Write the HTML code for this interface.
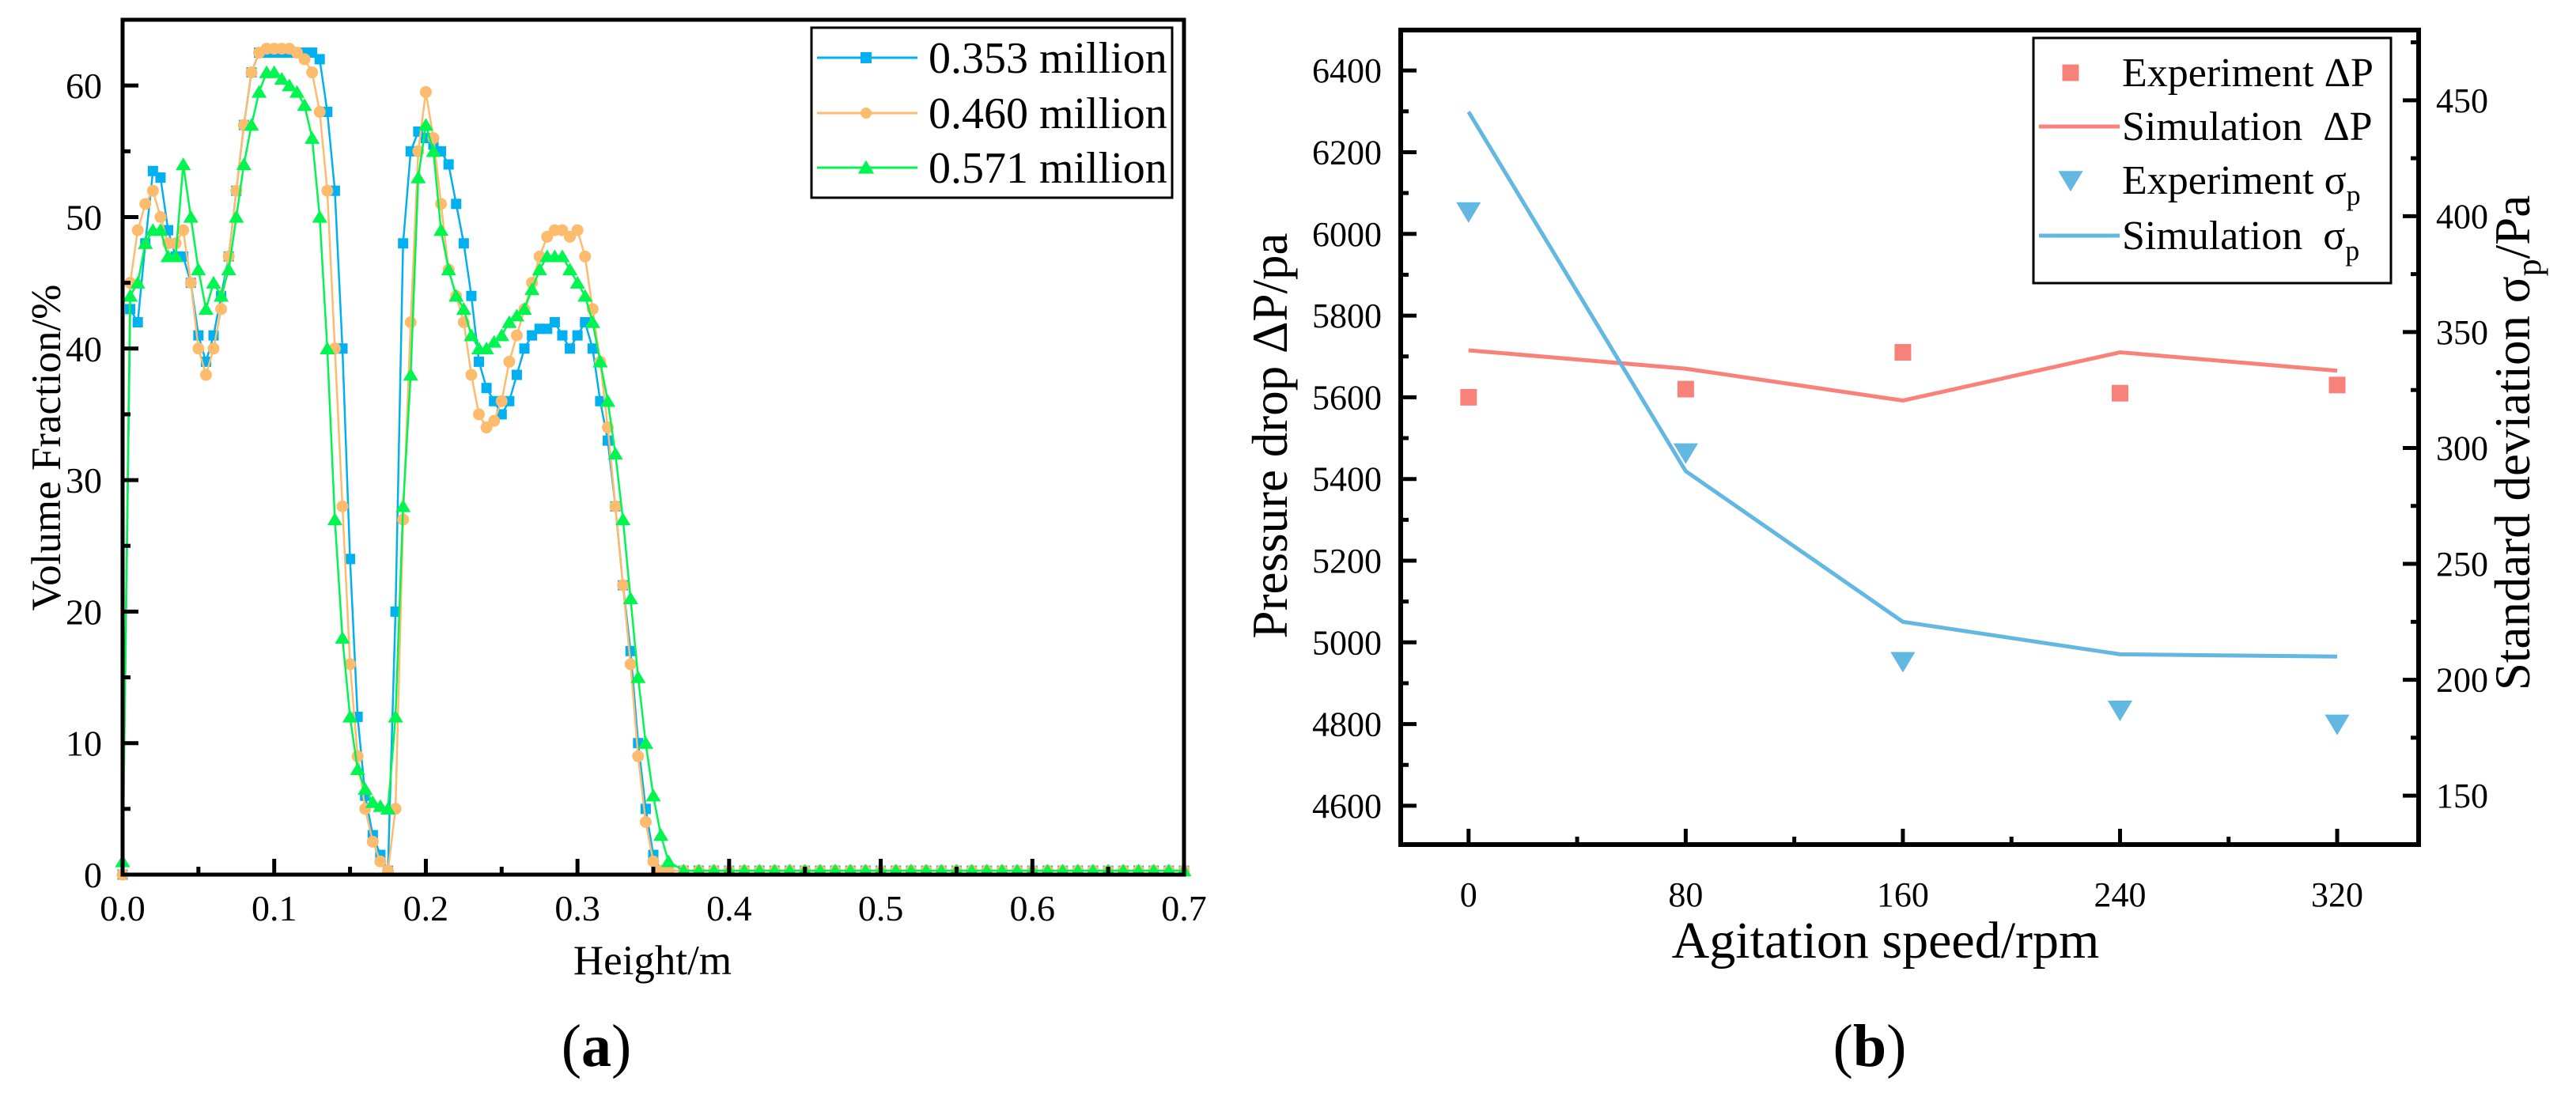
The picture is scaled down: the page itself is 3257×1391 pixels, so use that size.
<!DOCTYPE html>
<html><head><meta charset="utf-8">
<style>
html,body{margin:0;padding:0;background:#fff;}
svg{display:block;font-family:"Liberation Serif",serif;}
</style></head>
<body>
<svg id="fig" width="3257" height="1391" viewBox="0 0 3257 1391" xmlns="http://www.w3.org/2000/svg">
<g id="pa"></g>
<g id="pb"></g>
</svg>
<script>
// ---------- Panel (a) data ----------
const heightStep = 0.005;
const blueY = [0,43,42,48,53.5,53,49,47,47,45,41,39,41,44,47,52,57,61,62.5,62.5,62.5,62.5,62.5,62.5,62.5,62.5,62,58,52,40,24,12,6,3,1.5,0.3,20,48,55,56.5,56,55.5,55,54,51,48,44,39,37,36,35,36,38,40,41,41.5,41.5,42,41,40,41,42,40,36,33,28,22,17,10,5,1.5,0.3,0.3];
const orangeY = [0,45,49,51,52,50,48,48,49,45,40,38,40,43,47,52,57,61,62.5,62.8,62.8,62.8,62.8,62.5,62,61,58,52,40,28,16,9,5,2.5,1,0.3,5,27,42,55,59.5,56,51,46,44,42,38,35,34,34.5,36,39,41,43,45,47,48.5,49,49,48.5,49,47,43,39,34,28,22,16,9,4,1,0.3,0.3];
const greenY = [1,44,45,48,49,49,47,47,54,50,46,43,45,44,46,50,54,57,59.5,61,61,60.5,60,59.5,58.5,56,50,40,27,18,12,8,6.5,5.5,5.2,5,12,28,38,53,57,55,49,46,44,43,41,40,40,40.5,41,42,42.5,43,44.5,46,47,47,47,46,45,44,42,39,36,32,27,21,15,10,6,3,1];
const tailStart = 0.37;
const tailY = [0.3,0.3,0.3,0.3,0.3,0.3,0.3,0.3,0.3,0.3,0.3,0.3,0.3,0.3,0.3,0.3,0.3,0.3,0.3,0.3,0.3,0.3,0.3,0.3,0.3,0.3,0.3,0.3,0.3,0.3,0.3,0.3,0.3,0.3];
const aXTicks = ["0.0","0.1","0.2","0.3","0.4","0.5","0.6","0.7"];
const aYTicks = ["0","10","20","30","40","50","60"];
const aLegend = ["0.353 million","0.460 million","0.571 million"];

// ---------- Panel (b) data ----------
const speeds = [0,80,160,240,320];
const expDP = [5600,5620,5710,5610,5630];
const simDP = [5715,5670,5592,5710,5665];
const expSigma = [402,298,208,187,181];
const simSigma = [445,290,225,211,210];
const bXTicks = ["0","80","160","240","320"];
const bYTicks = ["4600","4800","5000","5200","5400","5600","5800","6000","6200","6400"];
const bY2Ticks = ["150","200","250","300","350","400","450"];

const NS="http://www.w3.org/2000/svg";
function mk(parent,tag,attrs,text){const e=document.createElementNS(NS,tag);for(const k in attrs)e.setAttribute(k,attrs[k]);if(text!==undefined)e.textContent=text;parent.appendChild(e);return e;}

// ===== Panel A =====
const pa=document.getElementById('pa');
const A={l:155,r:1497,t:25,b:1106,x0:0,x1:0.7,y0:0,y1:65};
const ax=v=>A.l+(v-A.x0)/(A.x1-A.x0)*(A.r-A.l);
const ay=v=>A.b-(v-A.y0)/(A.y1-A.y0)*(A.b-A.t);

function seriesPts(vals){const p=[];vals.forEach((v,i)=>p.push([i*heightStep,v]));tailY.forEach((v,i)=>p.push([tailStart+i*0.01,v]));return p;}
const aSeries=[
 {vals:blueY,color:"#00b0f0",shape:"square",name:"series-0-353-million"},
 {vals:orangeY,color:"#fdbb6d",shape:"circle",name:"series-0-460-million"},
 {vals:greenY,color:"#00f54f",shape:"triangle",name:"series-0-571-million"}
];
function marker(g,shape,x,y,s,color){
 let m;
 if(shape==="square") m=mk(g,'rect',{x:x-s/2,y:y-s/2,width:s,height:s,fill:color});
 else if(shape==="circle") m=mk(g,'circle',{cx:x,cy:y,r:s/2,fill:color});
 else if(shape==="triangle") m=mk(g,'polygon',{points:`${x},${y-s*0.55} ${x-s*0.6},${y+s*0.45} ${x+s*0.6},${y+s*0.45}`,fill:color});
 else m=mk(g,'polygon',{points:`${x},${y+s*0.55} ${x-s*0.6},${y-s*0.45} ${x+s*0.6},${y-s*0.45}`,fill:color});
 return m;
}
aSeries.forEach(s=>{
 const g=mk(pa,'g',{});
 
 
 const pts=seriesPts(s.vals);
 const line=mk(g,'polyline',{points:pts.map(p=>ax(p[0])+","+ay(p[1])).join(" "),fill:"none",stroke:s.color,"stroke-width":2.5});
 
 
 pts.forEach(p=>{
  const m=marker(g,s.shape,ax(p[0]),ay(p[1]),s.shape==="triangle"?16:(s.shape==="circle"?15:13),s.color);
  
  
 });
});
const fa=mk(pa,'rect',{x:A.l,y:A.t,width:A.r-A.l,height:A.b-A.t,fill:"none",stroke:"#000","stroke-width":5});


for(let i=0;i<=14;i++){const v=i*0.05;const x=ax(v);const len=i%2===0?20:10;
 mk(pa,'line',{x1:x,y1:A.b,x2:x,y2:A.b-len,stroke:"#000","stroke-width":5});}
aXTicks.forEach((t,i)=>{const tx=mk(pa,'text',{x:ax(i*0.1),y:A.b+58,"font-size":46,"text-anchor":"middle"},t);
 
 });
for(let i=0;i<=13;i++){const v=i*5;const y=ay(v);const len=i%2===0?20:10;
 mk(pa,'line',{x1:A.l,y1:y,x2:A.l+len,y2:y,stroke:"#000","stroke-width":5});}
aYTicks.forEach((t,i)=>{const tx=mk(pa,'text',{x:A.l-26,y:ay(i*10)+16,"font-size":46,"text-anchor":"end"},t);
 
 });
const lg=mk(pa,'g',{});


mk(lg,'rect',{x:1026,y:35,width:456,height:215,fill:"#fff",stroke:"#000","stroke-width":3});
const rowsA=[73,143,212];
aSeries.forEach((s,i)=>{
 const e=mk(lg,'g',{});
 
 
 mk(e,'line',{x1:1033,y1:rowsA[i],x2:1160,y2:rowsA[i],stroke:s.color,"stroke-width":3});
 marker(e,s.shape,1095,rowsA[i],s.shape==="triangle"?17:14,s.color);
 mk(e,'text',{x:1174,y:rowsA[i]+19,"font-size":56},aLegend[i]);
});
let t;
t=mk(pa,'text',{x:825,y:1232,"font-size":53,"text-anchor":"middle"},"Height/m");


t=mk(pa,'text',{x:0,y:0,"font-size":53,"text-anchor":"middle",transform:"translate(76,566) rotate(-90)"},"Volume Fraction/%");


t=mk(pa,'text',{x:754,y:1348,"font-size":76,"text-anchor":"middle"});


t.innerHTML='(<tspan font-weight="bold">a</tspan>)';

// ===== Panel B =====
const pb=document.getElementById('pb');
const B={l:1771,r:3058,t:38,b:1068,x0:-25,x1:350,y0:4505,y1:6499,z0:128.9,z1:480.3};
const bx=v=>B.l+(v-B.x0)/(B.x1-B.x0)*(B.r-B.l);
const by=v=>B.b-(v-B.y0)/(B.y1-B.y0)*(B.b-B.t);
const bz=v=>B.b-(v-B.z0)/(B.z1-B.z0)*(B.b-B.t);
const red="#f8827a", blu="#62b8e0";
let g=mk(pb,'g',{});


mk(g,'polyline',{points:speeds.map((s,i)=>bx(s)+","+by(simDP[i])).join(" "),fill:"none",stroke:red,"stroke-width":5});
g=mk(pb,'g',{});


mk(g,'polyline',{points:speeds.map((s,i)=>bx(s)+","+bz(simSigma[i])).join(" "),fill:"none",stroke:blu,"stroke-width":5});
speeds.forEach((s,i)=>{
 const m=marker(pb,'square',bx(s),by(expDP[i]),21,red);
 
 
 const n=marker(pb,'down',bx(s),bz(expSigma[i]),26,blu);
 
 
});
const fb=mk(pb,'rect',{x:B.l,y:B.t,width:B.r-B.l,height:B.b-B.t,fill:"none",stroke:"#000","stroke-width":6});


for(let v=0;v<=320;v+=40){const x=bx(v);const len=v%80===0?20:10;
 mk(pb,'line',{x1:x,y1:B.b,x2:x,y2:B.b-len,stroke:"#000","stroke-width":5});}
bXTicks.forEach((tk,i)=>{const tx=mk(pb,'text',{x:bx(speeds[i]),y:B.b+78,"font-size":44,"text-anchor":"middle"},tk);
 
 });
for(let v=4500;v<=6500;v+=100){const y=by(v);if(y<B.t||y>B.b)continue;const len=v%200===0?20:10;
 mk(pb,'line',{x1:B.l,y1:y,x2:B.l+len,y2:y,stroke:"#000","stroke-width":5});}
bYTicks.forEach(tk=>{const tx=mk(pb,'text',{x:B.l-24,y:by(+tk)+15,"font-size":44,"text-anchor":"end"},tk);
 
 });
for(let v=150;v<=475;v+=25){const y=bz(v);const len=v%50===0?20:10;
 mk(pb,'line',{x1:B.r,y1:y,x2:B.r-len,y2:y,stroke:"#000","stroke-width":5});}
bY2Ticks.forEach(tk=>{const tx=mk(pb,'text',{x:B.r+22,y:bz(+tk)+15,"font-size":44},tk);
 
 });
const lb=mk(pb,'g',{});


mk(lb,'rect',{x:2571,y:48,width:452,height:310,fill:"#fff",stroke:"#000","stroke-width":3});
const rowsB=[92,160,228,298];
const entries=[["sq","Experiment ΔP",""],["lr","Simulation\u00a0\u00a0ΔP",""],["tr","Experiment σ","p"],["lb","Simulation\u00a0\u00a0σ","p"]];
entries.forEach((en,i)=>{
 const e=mk(lb,'g',{});
 
 
 const y=rowsB[i];
 if(en[0]==="sq") marker(e,'square',2618,y,21,red);
 if(en[0]==="tr") marker(e,'down',2618,y,26,blu);
 if(en[0]==="lr") mk(e,'line',{x1:2578,y1:y,x2:2680,y2:y,stroke:red,"stroke-width":5});
 if(en[0]==="lb") mk(e,'line',{x1:2578,y1:y,x2:2680,y2:y,stroke:blu,"stroke-width":5});
 const tx=mk(e,'text',{x:2683,y:y+17,"font-size":52},en[1]);
 if(en[2]){mk(tx,'tspan',{"font-size":36,dy:14},en[2]);}
});
t=mk(pb,'text',{x:2384,y:1211,"font-size":66,"text-anchor":"middle"},"Agitation speed/rpm");


t=mk(pb,'text',{x:0,y:0,"font-size":63,"text-anchor":"middle",transform:"translate(1627,551) rotate(-90)"},"Pressure drop ΔP/pa");


t=mk(pb,'text',{x:0,y:0,"font-size":63,"text-anchor":"middle",transform:"translate(3198,560) rotate(-90)"});


t.innerHTML='Standard deviation σ<tspan font-size="44" dy="14">p</tspan><tspan dy="-14">/Pa</tspan>';
t=mk(pb,'text',{x:2364,y:1348,"font-size":76,"text-anchor":"middle"});


t.innerHTML='(<tspan font-weight="bold">b</tspan>)';
</script>
</body></html>
